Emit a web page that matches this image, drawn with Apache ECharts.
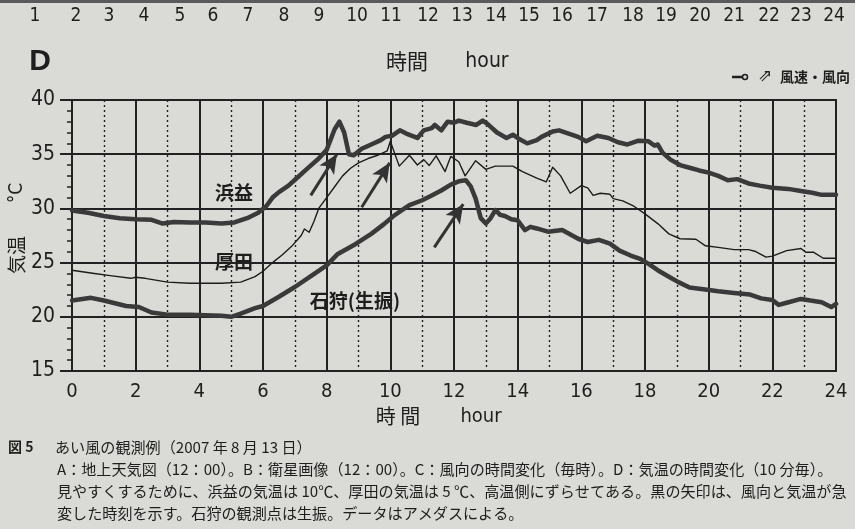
<!DOCTYPE html>
<html>
<head>
<meta charset="utf-8">
<script src="https://cdn.jsdelivr.net/npm/echarts@6/dist/echarts.min.js"></script>
<style>
  html, body { margin: 0; padding: 0; background: #dadad6; }
  #chart { width: 855px; height: 529px; }
</style>
</head>
<body>
<div id="chart"></div>
<script>
// ---- data: [hour, °C] ----
const hamamasu = [[0,29.8],[0.5,29.6],[1.0,29.3],[1.5,29.1],[2.0,29.0],[2.5,28.95],[2.85,28.6],[3.2,28.75],[3.7,28.7],[4.2,28.7],[4.7,28.6],[5.1,28.7],[5.5,29.1],[5.85,29.6],[6.1,30.2],[6.3,31.0],[6.5,31.5],[6.8,32.1],[7.1,32.9],[7.4,33.7],[7.75,34.6],[8.0,35.4],[8.25,37.3],[8.4,38.0],[8.55,37.0],[8.7,35.0],[8.85,34.9],[9.1,35.5],[9.4,35.9],[9.7,36.3],[9.85,36.6],[10.05,36.7],[10.3,37.2],[10.5,36.9],[10.85,36.5],[11.05,37.2],[11.3,37.4],[11.4,37.7],[11.6,37.2],[11.8,38.0],[12.0,37.9],[12.15,38.1],[12.4,37.9],[12.7,37.7],[12.9,38.1],[13.05,37.8],[13.35,37.0],[13.65,36.5],[13.85,36.8],[14.05,36.4],[14.3,36.0],[14.6,36.3],[14.75,36.6],[15.1,37.1],[15.3,37.2],[15.6,36.9],[15.9,36.6],[16.15,36.2],[16.5,36.7],[16.85,36.5],[17.15,36.1],[17.45,35.9],[17.8,36.25],[18.1,36.2],[18.3,35.8],[18.4,35.9],[18.55,35.15],[18.8,34.5],[19.1,34.0],[19.4,33.75],[19.7,33.5],[20.0,33.3],[20.3,33.0],[20.6,32.6],[20.9,32.7],[21.25,32.3],[21.6,32.1],[22.0,31.9],[22.5,31.8],[22.9,31.6],[23.25,31.45],[23.55,31.25],[24.0,31.25]];

const atsuta = [[0,24.3],[0.7,24.0],[1.2,23.8],[1.85,23.55],[2.0,23.65],[2.3,23.55],[3.0,23.2],[3.7,23.1],[4.7,23.1],[5.3,23.2],[5.75,23.7],[6.0,24.2],[6.3,25.0],[6.6,25.7],[6.9,26.5],[7.2,27.5],[7.3,28.1],[7.45,27.8],[7.6,28.8],[7.75,30.0],[8.0,31.0],[8.25,32.0],[8.5,33.0],[8.75,33.7],[9.0,34.2],[9.3,34.6],[9.6,34.9],[9.9,35.3],[10.0,36.2],[10.28,33.9],[10.6,34.9],[10.85,34.0],[11.05,34.5],[11.22,33.95],[11.44,34.85],[11.72,33.4],[11.9,34.8],[12.15,34.3],[12.35,33.0],[12.68,34.4],[13.0,33.6],[13.3,33.9],[13.85,33.9],[14.15,33.4],[14.6,32.8],[14.9,32.45],[15.1,33.8],[15.35,33.0],[15.65,31.4],[16.0,32.1],[16.2,31.9],[16.37,31.2],[16.6,31.4],[16.9,31.3],[17.0,30.9],[17.3,30.7],[17.65,30.2],[18.0,29.5],[18.4,28.6],[18.75,27.65],[19.1,27.2],[19.6,27.15],[19.9,26.55],[20.3,26.4],[20.8,26.2],[21.25,26.2],[21.45,26.05],[21.8,25.5],[22.0,25.6],[22.45,26.1],[22.9,26.3],[23.05,25.95],[23.3,25.95],[23.6,25.4],[24.0,25.4]];

const ishikari = [[0,21.5],[0.6,21.75],[1.0,21.5],[1.7,21.0],[2.1,20.9],[2.5,20.4],[3.0,20.2],[3.7,20.2],[4.2,20.15],[4.7,20.1],[5.0,20.0],[5.3,20.3],[5.75,20.8],[6.0,21.0],[6.5,21.85],[7.0,22.75],[7.55,23.85],[8.0,24.75],[8.35,25.8],[8.9,26.7],[9.4,27.65],[9.8,28.55],[10.1,29.3],[10.4,29.9],[10.6,30.3],[11.0,30.75],[11.3,31.2],[11.6,31.65],[11.9,32.2],[12.15,32.5],[12.37,32.6],[12.53,32.0],[12.68,30.9],[12.84,29.1],[13.0,28.6],[13.15,29.1],[13.3,29.85],[13.45,29.4],[13.6,29.3],[13.8,29.0],[14.0,28.9],[14.23,28.0],[14.4,28.3],[14.6,28.15],[14.95,27.85],[15.4,28.0],[15.9,27.2],[16.2,26.9],[16.55,27.1],[16.9,26.75],[17.2,26.1],[17.55,25.65],[17.85,25.35],[18.1,24.9],[18.4,24.3],[18.75,23.7],[19.05,23.2],[19.4,22.7],[19.95,22.5],[20.3,22.35],[20.8,22.2],[21.3,22.05],[21.65,21.7],[22.0,21.55],[22.2,21.1],[22.45,21.3],[22.9,21.65],[23.2,21.5],[23.55,21.35],[23.85,20.9],[24.0,21.2]];

// arrows: [tailHour, tailTemp, headHour, headTemp]
const arrows = [[7.5,31.2,8.32,35.0],[9.1,30.1,9.98,34.2],[11.38,26.4,12.29,30.4]];

// station labels: [name, hour, temp]
const stationLabels = [['浜益',5.09,31.42],['厚田',5.09,25.06],['石狩(生振)',8.89,21.46]];

const topRowNumbers = [1,2,3,4,5,6,7,8,9,10,11,12,13,14,15,16,17,18,19,20,21,22,23,24];

const captionTitle = '図 5';
const captionLines = [
  'あい風の観測例（2007 年 8 月 13 日）',
  'A：地上天気図（12：00）。B：衛星画像（12：00）。C：風向の時間変化（毎時）。D：気温の時間変化（10 分毎）。',
  '見やすくするために、浜益の気温は 10℃、厚田の気温は 5 ℃、高温側にずらせてある。黒の矢印は、風向と気温が急',
  '変した時刻を示す。石狩の観測点は生振。データはアメダスによる。'
];

// ---- layout ----
const topRowX = [35,76,109,144,180,213,248,284,319,357,391,428,462,496,529,562,597,633,666,700,734,769,801,834];
const NUM_FONT = "'Liberation Sans Narrow','DejaVu Sans Condensed','Roboto Condensed','Liberation Sans',sans-serif";
const JP_FONT = "'Noto Sans CJK JP','Noto Sans',sans-serif";
const INK = '#1e1e1e';

const chart = echarts.init(document.getElementById('chart'), null, {renderer: 'canvas'});

const graphics = [];
graphics.push({type:'rect', left:0, top:0, shape:{width:855, height:3}, style:{fill:'#5a5a5a'}, silent:true});
topRowNumbers.forEach((n, i) => {
  graphics.push({type:'text', x: topRowX[i], y: 16, style:{text: String(n), font: '19px ' + NUM_FONT, fill: INK, textAlign:'center', textVerticalAlign:'middle'}});
});
graphics.push({type:'text', x: 40, y: 62, style:{text:'D', font:'bold 30px Liberation Sans, Arial, sans-serif', fill: INK, textAlign:'center', textVerticalAlign:'middle'}});
graphics.push({type:'text', x: 407, y: 61, style:{text:'時間', font:'21px ' + JP_FONT, fill: INK, textAlign:'center', textVerticalAlign:'middle'}});
graphics.push({type:'text', x: 487, y: 62, style:{text:'hour', font:'21px ' + NUM_FONT, fill: INK, textAlign:'center', textVerticalAlign:'middle'}});
// legend (wind speed / direction)
graphics.push({type:'line', shape:{x1:732, y1:77, x2:742, y2:77}, style:{stroke:INK, lineWidth:2.5}});
graphics.push({type:'circle', shape:{cx:745, cy:77, r:2.5}, style:{stroke:INK, fill:'none', lineWidth:1.5}});
graphics.push({type:'text', x: 765, y: 77, style:{text:'⇗', font:'17px DejaVu Sans, sans-serif', fill: INK, textAlign:'center', textVerticalAlign:'middle'}});
graphics.push({type:'text', x: 850, y: 77, style:{text:'風速・風向', font:'bold 14px ' + JP_FONT, fill: INK, textAlign:'right', textVerticalAlign:'middle'}});
// y axis name (rotated, reads bottom to top)
graphics.push({type:'text', x: 17, y: 255, rotation: Math.PI/2, style:{text:'気温', font:'19px ' + JP_FONT, fill: INK, textAlign:'center', textVerticalAlign:'middle'}});
graphics.push({type:'text', x: 17, y: 193, rotation: Math.PI/2, style:{text:'°C', font:'19px ' + NUM_FONT, fill: INK, textAlign:'center', textVerticalAlign:'middle'}});
// x axis name
graphics.push({type:'text', x: 398, y: 416, style:{text:'時 間', font:'20px ' + JP_FONT, fill: INK, textAlign:'center', textVerticalAlign:'middle'}});
graphics.push({type:'text', x: 481, y: 417, style:{text:'hour', font:'20px ' + NUM_FONT, fill: INK, textAlign:'center', textVerticalAlign:'middle'}});
// caption
graphics.push({type:'text', x: 8, y: 447, style:{text: captionTitle, font:'bold 14px ' + JP_FONT, fill: INK, textAlign:'left', textVerticalAlign:'middle'}});
const capY = [447, 469, 491, 513];
const capX = [55, 57, 57, 57];
captionLines.forEach((t, i) => {
  graphics.push({type:'text', x: capX[i], y: capY[i], style:{text: t, font:'15.1px ' + JP_FONT, fill: INK, textAlign:'left', textVerticalAlign:'middle'}});
});

function lineSeries(name, data, width, color, withArrows) {
  const s = {
    name, type:'line', data, showSymbol:false, symbol:'none', smooth:false,
    lineStyle:{width, color, join:'round', cap:'round'}, z: width > 2 ? 3 : 4,
    markPoint: {
      symbol:'rect', symbolSize:1, itemStyle:{color:'rgba(0,0,0,0)'},
      label:{show:true, position:'inside', color: INK, fontSize:19, fontWeight:'bold', fontFamily: JP_FONT},
      data: stationLabels.filter(l => l[0] === name).map(l => ({coord:[l[1], l[2]], label:{formatter: l[0]}}))
    }
  };
  if (withArrows) {
    s.markLine = {
      silent:true, animation:false,
      symbol:['none','arrow'], symbolSize:[13, 19],
      label:{show:false},
      lineStyle:{color:'#333', width:3, type:'solid'},
      data: arrows.map(a => [{coord:[a[0], a[1]]}, {coord:[a[2], a[3]]}])
    };
  }
  return s;
}

chart.setOption({
  backgroundColor: '#dadad6',
  animation: false,
  grid: {left:72, right:19, top:100, bottom:158, show:true, borderColor:'#222', borderWidth:2, backgroundColor:'transparent'},
  xAxis: {
    type:'value', min:0, max:24, interval:2,
    axisLine:{show:true, lineStyle:{color:'#222', width:2}},
    axisTick:{show:false},
    axisLabel:{fontSize:20, color: INK, margin:11, fontFamily: NUM_FONT},
    splitLine:{show:true, lineStyle:{color:'#222', width:2}},
    minorTick:{show:false, splitNumber:2},
    minorSplitLine:{show:true, lineStyle:{color:'#222', width:1.4, type:[2,3]}}
  },
  yAxis: {
    type:'value', min:15, max:40, interval:5,
    axisLine:{show:true, lineStyle:{color:'#222', width:2}},
    axisTick:{show:true, inside:false, length:12, lineStyle:{color:'#222', width:2}},
    minorTick:{show:true, splitNumber:5, length:5, lineStyle:{color:'#222', width:1.5}},
    axisLabel:{fontSize:21, color: INK, margin:17, fontFamily: NUM_FONT},
    splitLine:{show:true, lineStyle:{color:'#222', width:2}}
  },
  series: [
    lineSeries('浜益', hamamasu, 4.5, '#3a3a3a', true),
    lineSeries('厚田', atsuta, 1.4, '#1c1c1c', false),
    lineSeries('石狩(生振)', ishikari, 4.5, '#3a3a3a', false)
  ],
  graphic: graphics
});
</script>
</body>
</html>
